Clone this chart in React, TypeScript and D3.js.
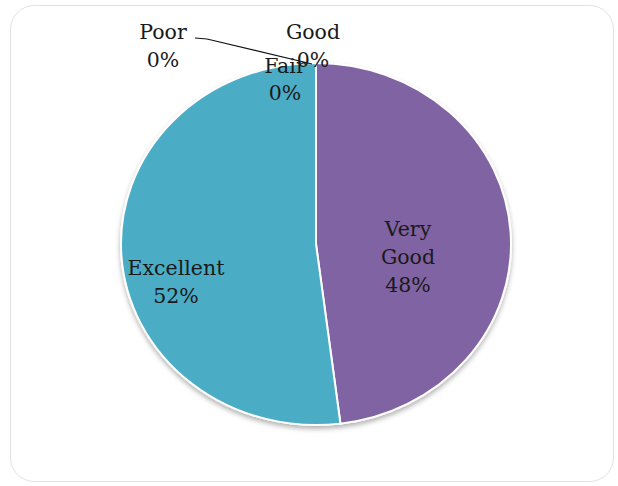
import React from "react";
import * as d3 from "d3";

const categories = ["Very Good", "Excellent", "Poor", "Fair", "Good"];
const values = [48, 52, 0, 0, 0];
const colors = ["#8064A2", "#4BACC6", "#9BBB59", "#C0504D", "#4F81BD"];

const W = 618;
const H = 486;
const cx = 316;
const cy = 244;
const RX = 195;
const RY = 181;

export default function App() {
  const data = categories.map((c, i) => ({ c, v: values[i], color: colors[i] }));
  const pie = d3.pie<any>().value((d) => d.v).sort(null);
  const arcs = pie(data);
  const arc = d3.arc<any>().innerRadius(0).outerRadius(RX);
  const font = "'DejaVu Serif', serif";
  const fs = 20.5;

  const label = (lines: string[], x: number, y: number, key: string, gap = 28) => (
    <text key={key} x={x} y={y} textAnchor="middle" fontFamily={font} fontSize={fs} fill="#1a1a1a">
      {lines.map((l, i) => (
        <tspan key={i} x={x} dy={i === 0 ? 0 : gap}>{l}</tspan>
      ))}
    </text>
  );

  const pct = (v: number) => `${Math.round(v)}%`;

  return (
    <svg width={W} height={H} style={{ position: "absolute", left: 0, top: 0, background: "#fff" }}>
      <defs>
        <filter id="sh" x="-20%" y="-20%" width="140%" height="140%">
          <feDropShadow dx="0" dy="3" stdDeviation="2.5" floodColor="#000" floodOpacity="0.3" />
        </filter>
      </defs>
      <rect x={10.5} y={5.5} width={603} height={476} rx={24} fill="#fff" stroke="#e2e2e2" strokeWidth={1} />
      <g filter="url(#sh)">
        <g transform={`translate(${cx},${cy}) scale(1,${RY / RX})`}>
          {arcs.filter((a) => a.data.v > 0).map((a, i) => (
            <path key={i} d={arc(a) || ""} fill={a.data.color} stroke="#fff" strokeWidth={2} />
          ))}
        </g>
      </g>
      <polyline points="195,38 207,39 312,64" fill="none" stroke="#111" strokeWidth={1.2} />
      {label(["Very", "Good", pct(values[0])], 408, 236, "vg", 28)}
      {label(["Excellent", pct(values[1])], 176, 275, "ex")}
      {label(["Poor", pct(values[2])], 163, 39, "po")}
      {label(["Good", pct(values[4])], 313, 39, "go")}
      {label(["Fair", pct(values[3])], 285, 73, "fa", 27)}
    </svg>
  );
}
